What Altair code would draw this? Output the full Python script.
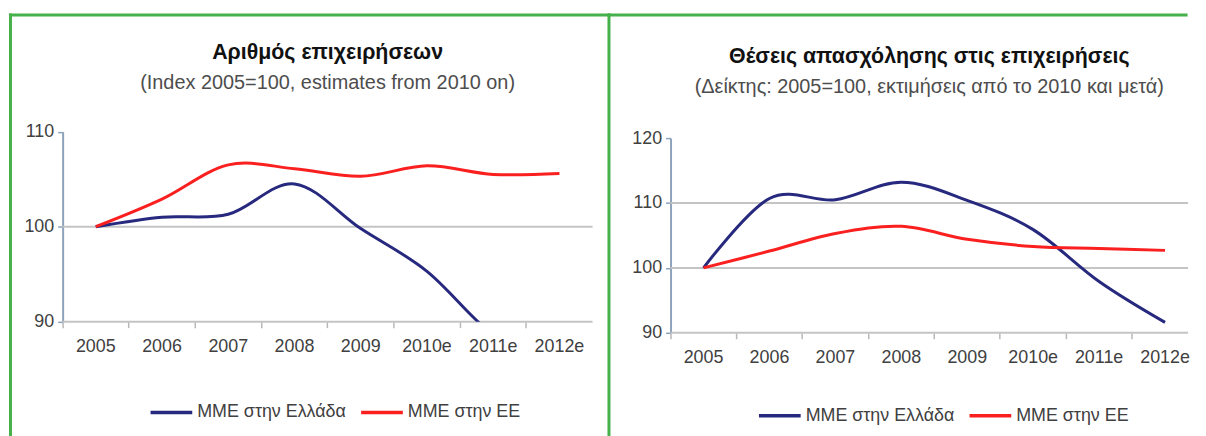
import altair as alt
import pandas as pd

# ---------------- data ----------------
years = ["2005", "2006", "2007", "2008", "2009", "2010e", "2011e", "2012e"]
series_names = ["ΜΜΕ στην Ελλάδα", "ΜΜΕ στην ΕΕ"]

firms_gr = [100.0, 101.0, 101.3, 104.5, 99.8, 95.3, 88.6, 85.0]
firms_eu = [100.0, 102.9, 106.5, 106.1, 105.3, 106.4, 105.5, 105.6]

jobs_gr = [100.0, 110.7, 110.5, 113.2, 110.4, 105.9, 97.9, 91.6]
jobs_eu = [100.0, 102.6, 105.3, 106.4, 104.4, 103.3, 103.0, 102.7]

left_ticks = [90, 100, 110]
right_ticks = [90, 100, 110, 120]
left_grid = [90, 100]
right_grid = [90, 100, 110]

left_title = "Αριθμός επιχειρήσεων"
left_subtitle = "(Index 2005=100, estimates from 2010 on)"
right_title = "Θέσεις απασχόλησης στις επιχειρήσεις"
right_subtitle = "(Δείκτης: 2005=100, εκτιμήσεις από το 2010 και μετά)"

# ---------------- style ----------------
FONT = "Liberation Sans"
NAVY = "#27297f"
RED = "#fb2020"
GREEN = "#46b04a"
GRID = "#c4c4c4"
YAXIS = "#8da2bb"
TEXT = "#404040"


def long_frame(gr, eu):
    rows = []
    for name, vals in zip(series_names, [gr, eu]):
        for y, v in zip(years, vals):
            rows.append({"year": y, "series": name, "value": v})
    return pd.DataFrame(rows)


def y_enc(domain, ticks, yrange):
    return alt.Y(
        "value:Q",
        scale=alt.Scale(domain=domain, nice=False, zero=False, range=yrange),
        axis=alt.Axis(
            title=None, values=ticks, grid=False,
            labelFont=FONT, labelFontSize=18, labelColor=TEXT,
            labelPadding=4, tickSize=5, tickColor=YAXIS, tickWidth=1.5,
            domainColor=YAXIS, domainWidth=2,
        ),
    )


def border(x, x2, y, y2):
    return alt.Chart(alt.Data(values=[{}])).mark_rule(
        color=GREEN, strokeWidth=3, strokeCap="square"
    ).encode(x=alt.value(x), x2=alt.value(x2), y=alt.value(y), y2=alt.value(y2))


def panel(gr, eu, domain, ticks, grid_vals, title, subtitle, w, h, xrange, yrange,
          title_offset, legend_x, legend_y, borders):
    ye = y_enc(domain, ticks, yrange)
    grid = alt.Chart(pd.DataFrame({"value": grid_vals})).mark_rule(
        color=GRID, strokeWidth=2
    ).encode(y=ye)
    xscale = alt.Scale(type="band", domain=years, paddingInner=0, paddingOuter=0)
    if xrange is not None:
        xscale = alt.Scale(type="band", domain=years, paddingInner=0,
                           paddingOuter=0, range=xrange)
    lines = alt.Chart(long_frame(gr, eu)).mark_line(
        strokeWidth=3, interpolate="cardinal", clip=True
    ).encode(
        x=alt.X(
            "year:N", sort=years, bandPosition=0.5, scale=xscale,
            axis=alt.Axis(
                title=None, labelAngle=0, grid=False, domain=False,
                labelFont=FONT, labelFontSize=18, labelColor=TEXT,
                labelPadding=10, tickSize=6, bandPosition=0, tickExtra=False,
                tickColor="#b8b8b8", tickWidth=1.5,
            ),
        ),
        y=ye,
        color=alt.Color(
            "series:N",
            scale=alt.Scale(domain=series_names, range=[NAVY, RED]),
            legend=alt.Legend(
                title=None, orient="none", legendX=legend_x, legendY=legend_y,
                direction="horizontal", symbolType="stroke", symbolSize=1764,
                symbolStrokeWidth=3.5, labelFont=FONT, labelFontSize=18,
                labelColor=TEXT, labelOffset=3, columnPadding=8, padding=0,
            ),
        ),
    )
    layers = [grid, lines] + borders
    return alt.layer(*layers).properties(
        width=w, height=h,
        title=alt.TitleParams(
            text=title, subtitle=subtitle,
            font=FONT, fontSize=21.5, fontWeight="bold", color="#111111",
            subtitleFont=FONT, subtitleFontSize=20, subtitleColor="#4d4d4d",
            subtitlePadding=9, anchor="middle", frame="group", offset=title_offset,
        ),
    )


# left plot: origin at page (63.5, 137.5); its 110 line sits 6.5px above origin
left = panel(
    firms_gr, firms_eu, [90, 110], left_ticks, left_grid,
    left_title, left_subtitle, 533.5, 184.8, None, [184.8, -6.5],
    -80.2, 86.5, 253.2,
    [
        border(-52.5, 550, -124, -124),
        border(-52.5, -52.5, -124, 307.5),
        border(550, 550, -124, 307.5),
    ],
)

# right plot: origin at page (675, 137.5); runs off the right edge like the original
right = panel(
    jobs_gr, jobs_eu, [90, 120], right_ticks, right_grid,
    right_title, right_subtitle, 521, 196, [0, 531], [196, 0],
    -84.4, 87, 256.5,
    [
        border(-61.5, 519, -124, -124),
    ],
)

chart = alt.hconcat(left, right, spacing=78, bounds="flush").properties(
    padding={"left": 0, "top": 2.5, "right": 0, "bottom": 0},
    background="white",
).resolve_scale(
    x="independent", y="independent", color="independent"
).resolve_legend(color="independent").configure_view(stroke=None)

chart.save("out.html", embed_options={"renderer": "svg", "actions": False})
